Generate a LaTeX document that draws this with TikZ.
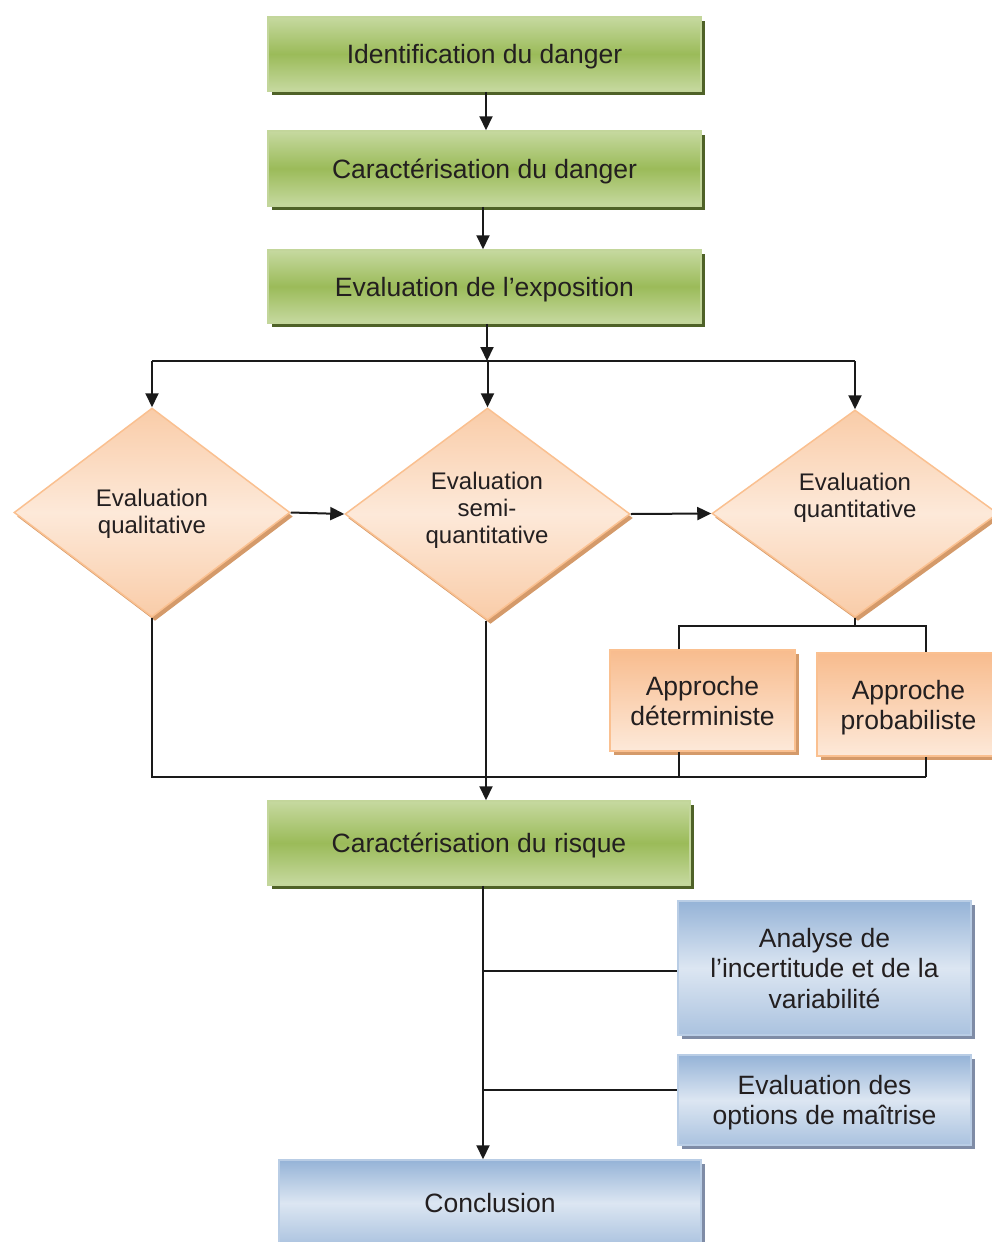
\documentclass[tikz,border=0pt]{standalone}
\usepackage{fontspec}
\setmainfont{Liberation Sans}
\usetikzlibrary{shapes.geometric,arrows.meta,shadows,calc}
\definecolor{txt}{HTML}{231F20}
\definecolor{lc}{HTML}{1A1A1A}
\definecolor{glight}{HTML}{C6D9A0}
\definecolor{gdark}{HTML}{9BBB59}
\definecolor{gborder}{HTML}{C3D69B}
\definecolor{gshadow}{HTML}{4F6228}
\definecolor{olight}{HTML}{FDE9D9}
\definecolor{odark}{HTML}{F9CCA8}
\definecolor{obdark}{HTML}{F8BC8E}
\definecolor{oborder}{HTML}{FAC090}
\definecolor{oshadow}{HTML}{D49A6A}
\definecolor{blight}{HTML}{DCE6F2}
\definecolor{bdark}{HTML}{95B3D7}
\definecolor{bborder}{HTML}{B9CDE5}
\definecolor{bshadow}{HTML}{7F8CA6}
\begin{document}
\begin{tikzpicture}[x=1pt,y=-1pt,
  gbox/.style={rectangle, draw=gborder, line width=1.5pt, top color=glight, bottom color=glight, middle color=gdark,
    inner sep=0pt, text=txt, align=center, font=\fontsize{26.5}{30.5}\selectfont, text depth=0pt,
    drop shadow={shadow xshift=4pt, shadow yshift=-4pt, opacity=1, fill=gshadow}},
  dia/.style={diamond, draw=oborder, line width=1.5pt, shading angle=-45, top color=odark, bottom color=odark, middle color=olight,
    inner sep=0pt, drop shadow={shadow xshift=3pt, shadow yshift=-4pt, opacity=1, fill=oshadow}},
  dtext/.style={text=txt, align=center, font=\fontsize{24}{27}\selectfont, inner sep=0pt},
  obox/.style={rectangle, draw=oborder, line width=1.5pt, shading angle=-45, top color=obdark, bottom color=olight,
    inner sep=0pt, text=txt, align=center, font=\fontsize{26.5}{30}\selectfont, text depth=0pt,
    drop shadow={shadow xshift=4pt, shadow yshift=-4pt, opacity=1, fill=oshadow}},
  bbox/.style={rectangle, draw=bborder, line width=1.5pt, shading angle=-45, top color=bdark, bottom color=bdark!70!blight, middle color=blight,
    inner sep=0pt, text=txt, align=center, font=\fontsize{26.5}{30.5}\selectfont, text depth=0pt,
    drop shadow={shadow xshift=4pt, shadow yshift=-4pt, opacity=1, fill=bshadow}},
  line/.style={draw=lc, line width=2pt},
  arr/.style={line, -{Triangle[length=14pt,width=13pt]}}
]
\useasboundingbox (0,0) rectangle (992,1242);
\clip (0,0) rectangle (992,1242);

% green boxes
\node[gbox, minimum width=433pt, minimum height=74pt] (b1) at (484.5,54) {Identification du danger};
\node[gbox, minimum width=433pt, minimum height=75pt] (b2) at (484.5,168.5) {Caractérisation du danger};
\node[gbox, minimum width=433pt, minimum height=73pt] (b3) at (484.5,286.5) {Evaluation de l’exposition};

% diamonds
\node[dia, minimum width=276pt, minimum height=209pt] (d1) at (152,512.5) {};
\node[dia, minimum width=285pt, minimum height=212pt] (d2) at (487.5,514) {};
\node[dia, minimum width=286pt, minimum height=207pt] (d3) at (855,513.5) {};
\node[dtext] (t1) at (152,514) {Evaluation\\qualitative};
\node[dtext] (t2) at (487,510.5) {Evaluation\\semi-\\quantitative};
\node[dtext] (t3) at (855,498) {Evaluation\\quantitative};

% orange boxes
\node[obox, minimum width=185pt, minimum height=101pt] (det) at (702.5,700.5) {Approche\\déterministe};
\node[obox, minimum width=183pt, minimum height=103pt] (prob) at (908.5,704.5) {Approche\\probabiliste};

% risk
\node[gbox, minimum width=422pt, minimum height=84pt] (risk) at (479,843) {Caractérisation du risque};

% blue boxes
\node[bbox, minimum width=293pt, minimum height=134pt] (ana) at (824.5,968) {Analyse de\\l’incertitude et de la\\variabilité};
\node[bbox, minimum width=293pt, minimum height=90pt] (opt) at (824.5,1100) {Evaluation des\\options de maîtrise};
\node[bbox, minimum width=422pt, minimum height=86pt] (concl) at (490,1203) {Conclusion};

% coordinates
\coordinate (bus) at (487,361);
\coordinate (sl) at (679,626);
\coordinate (sr) at (926,626);
\coordinate (bus2) at (0,777);
\coordinate (ja) at ($(ana.west)+(0,3)$);
\coordinate (jo) at ($(opt.west)+(0,-10)$);

% connectors
\draw[arr] (b1.south -| 486,0) -- (b2.north -| 486,0);
\draw[arr] (b2.south -| 483,0) -- (b3.north -| 483,0);
\draw[arr] (b3.south -| bus) -- (bus);
\draw[line] (d1.north |- bus) -- (d3.north |- bus);
\draw[arr] (d1.north |- bus) -- (d1.north);
\draw[arr] (d2.north |- bus) -- (d2.north);
\draw[arr] (d3.north |- bus) -- (d3.north);
\draw[arr] (d1.east) -- (d2.west);
\draw[arr] (d2.east) -- (d3.west);
\draw[line] (d3.south) -- (d3.south |- sl);
\draw[line] (det.north -| sl) -- (sl) -- (sr) -- (prob.north -| sr);
\draw[line] (det.south -| sl) -- (sl |- bus2);
\draw[line] (prob.south -| sr) -- (sr |- bus2);
\draw[line] (d1.south) -- (d1.south |- bus2) -- (sr |- bus2);
\draw[arr] (d2.south -| 486,0) -- (risk.north -| 486,0);
\draw[arr] (risk.south -| 483,0) -- (concl.north -| 483,0);
\draw[line] (ja -| 483,0) -- (ja);
\draw[line] (jo -| 483,0) -- (jo);
\end{tikzpicture}
\end{document}
